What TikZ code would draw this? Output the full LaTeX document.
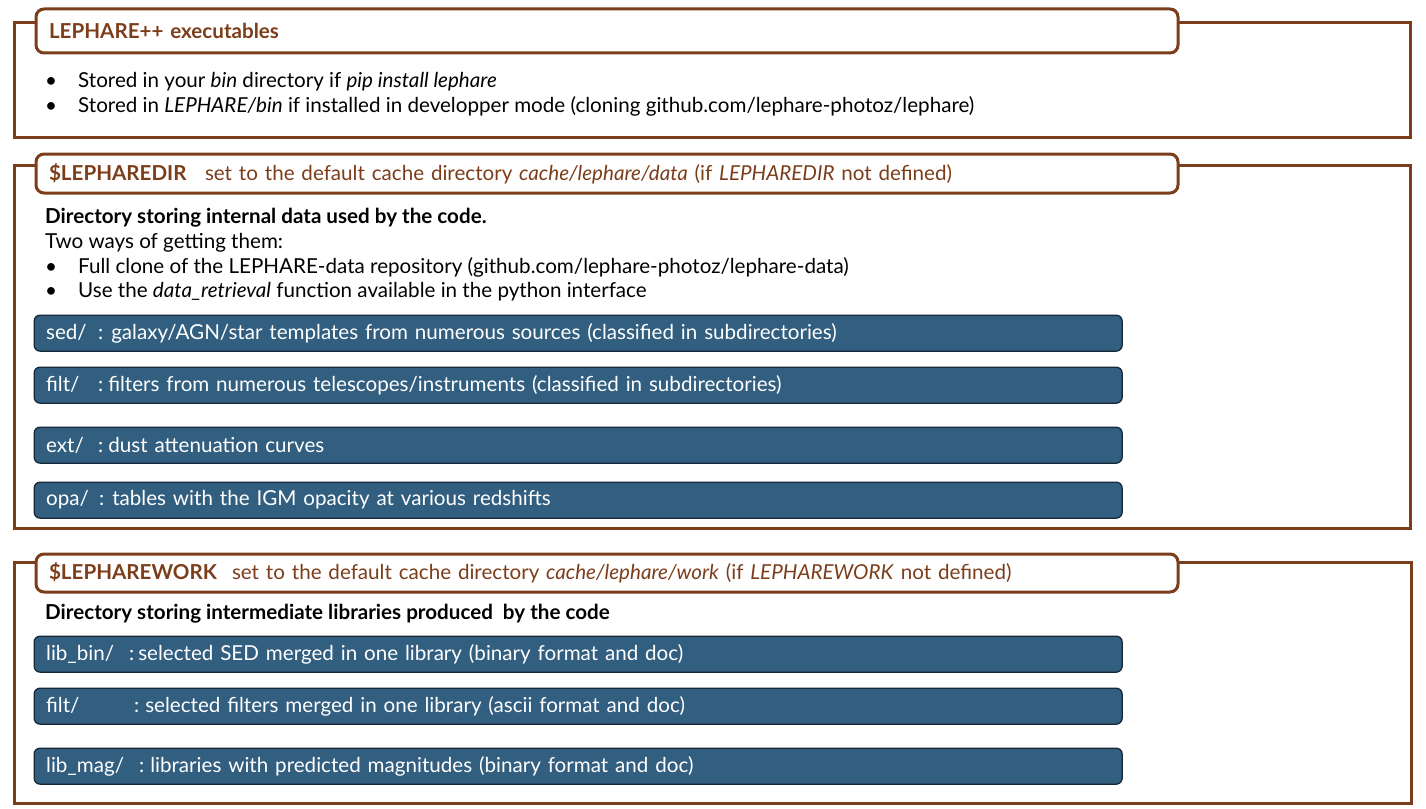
\documentclass[tikz,border=0pt]{standalone}
\usepackage{fontspec}
\setmainfont{Lato}
\definecolor{brn}{RGB}{124,62,26}
\definecolor{blu}{RGB}{50,94,128}
\definecolor{bludk}{RGB}{22,40,58}
\newcommand{\fs}{\fontsize{20.6}{24}\selectfont}
\begin{document}
\begin{tikzpicture}[x=1pt,y=-1pt,
  frame/.style={draw=brn, line width=3pt},
  titlebox/.style={draw=brn, line width=3pt, fill=white, rounded corners=8pt, anchor=north west,
    text width=1116pt, inner xsep=13pt, inner ysep=0pt, align=left, font=\fs, text=brn},
  dirbox/.style={draw=bludk, line width=1.3pt, fill=blu, rounded corners=6pt, anchor=north west,
    minimum height=36pt, text width=1064pt, inner xsep=12pt, inner ysep=0pt, align=left, text=white, font=\fs},
  txt/.style={anchor=base west, inner sep=0pt, font=\fs, text=black},
  bul/.style={anchor=base west, inner sep=0pt, font=\fs, text=black}]
\useasboundingbox[fill=white] (0,0) rectangle (1426,808);

% ---- frame 1
\draw[frame] (14,23) rectangle (1410,137);
\node[titlebox, minimum height=44pt] (t1) at (34.5,7.5) {\bfseries LEPHARE++ executables};
\node[bul] (b1a) at (45,87) {\textbullet};
\node[txt] (l1a) at (78,87) {Stored in your \textit{bin} directory if \textit{pip install lephare}};
\node[bul] (b1b) at (45,112) {\textbullet};
\node[txt] (l1b) at (78,112) {Stored in \textit{LEPHARE/bin} if installed in developper mode (cloning github.com/lephare-photoz/lephare)};

% ---- frame 2
\draw[frame] (14,165) rectangle (1410,528);
\node[titlebox, minimum height=39pt] (t2) at (34.5,152.5) {\makebox[156pt][l]{\bfseries\$LEPHAREDIR}set to the default cache directory \textit{cache/lephare/data} (if \textit{LEPHAREDIR} not defined)};
\node[txt] (h2) at (45,223) {\bfseries Directory storing internal data used by the code.};
\node[txt] (w2) at (45,248) {Two ways of getting them:};
\node[bul] (b2a) at (45,273) {\textbullet};
\node[txt] (l2a) at (78,273) {Full clone of the LEPHARE-data repository (github.com/lephare-photoz/lephare-data)};
\node[bul] (b2b) at (45,297) {\textbullet};
\node[txt] (l2b) at (78,297) {Use the \textit{data\_retrieval} function available in the python interface};
\node[dirbox] (sed) at (33.5,314.5) {\makebox[52pt][l]{sed/}:\hspace{8pt}galaxy/AGN/star templates from numerous sources (classified in subdirectories)};
\node[dirbox] (filt) at (33.5,366.5) {\makebox[52pt][l]{filt/}:\hspace{5pt}filters from numerous telescopes/instruments (classified in subdirectories)};
\node[dirbox] (ext) at (33.5,426.5) {\makebox[52pt][l]{ext/}:\hspace{5pt}dust attenuation curves};
\node[dirbox] (opa) at (33.5,481.5) {\makebox[53pt][l]{opa/}:\hspace{8pt}tables with the IGM opacity at various redshifts};

% ---- frame 3
\draw[frame] (14,562) rectangle (1411,803);
\node[titlebox, minimum height=38pt] (t3) at (34.5,552.5) {\makebox[183pt][l]{\bfseries\$LEPHAREWORK}set to the default cache directory \textit{cache/lephare/work} (if \textit{LEPHAREWORK} not defined)};
\node[txt] (h3) at (45,619) {\bfseries Directory storing intermediate libraries produced\ \ by the code};
\node[dirbox] (libbin) at (33.5,635.5) {\makebox[83pt][l]{lib\_bin/}:\hspace{4pt}selected SED merged in one library (binary format and doc)};
\node[dirbox] (filtw) at (33.5,687.5) {\makebox[88pt][l]{filt/}:\hspace{6pt}selected filters merged in one library (ascii format and doc)};
\node[dirbox] (libmag) at (33.5,747.5) {\makebox[93pt][l]{lib\_mag/}:\hspace{6pt}libraries with predicted magnitudes (binary format and doc)};
\end{tikzpicture}
\end{document}
